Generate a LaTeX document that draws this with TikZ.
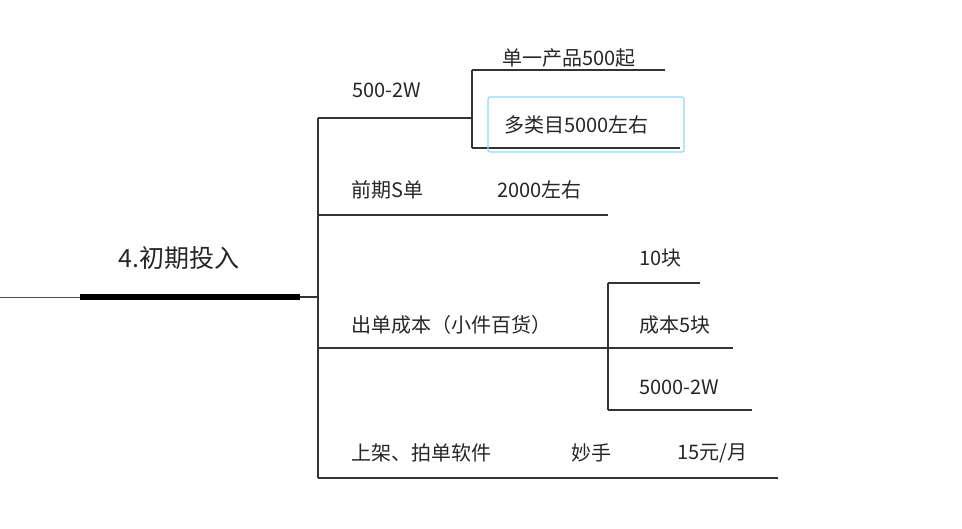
\documentclass[tikz,border=0pt]{standalone}
\usepackage{fontspec}
\setmainfont{Noto Sans CJK SC}
\tikzset{
  lbl/.style={font=\fontsize{20}{23}\selectfont, text=black!85, inner sep=0pt, anchor=west},
  br/.style={draw=black!80, line width=1.2pt},
}
\begin{document}
\begin{tikzpicture}[x=1pt,y=-1pt]
\useasboundingbox (0,0) rectangle (962,528);
% root
\coordinate (l0) at (0,297);
\coordinate (r0) at (80,297);
\coordinate (r1) at (300,297);
\coordinate (t) at (318,297);
\draw[black!70, line width=0.8pt] (l0) -- (r0);
\draw[black, line width=6pt] (r0) -- (r1);
\draw[br] (r1) -- (t);
\node[lbl, font=\fontsize{25}{28}\selectfont] (root) at (118,258) {4.初期投入};
% trunk
\coordinate (ta) at (318,118);
\coordinate (tb) at (318,478);
\draw[br] (ta) -- (tb);
% branch 1
\coordinate (b1) at (472,118);
\draw[br] (ta) -- (b1);
\node[lbl] (n1) at (352,90) {500-2W};
\coordinate (s1a) at (472,70);
\coordinate (s1b) at (472,148);
\draw[br] (s1a) -- (s1b);
\coordinate (e1a) at (665,70);
\coordinate (e1b) at (680,148);
\draw[br] (s1a) -- (e1a);
\draw[br] (s1b) -- (e1b);
\node[lbl] (n11) at (502,58) {单一产品500起};
\draw[cyan!45, line width=1.2pt, rounded corners=2pt] (488,97) rectangle (684,152);
\node[lbl] (n12) at (504,125) {多类目5000左右};
% branch 2
\coordinate (a2) at (318,215);
\coordinate (b2) at (608,215);
\draw[br] (a2) -- (b2);
\node[lbl] (n2) at (351,190) {前期S单};
\node[lbl] (n21) at (497,190) {2000左右};
% branch 3
\coordinate (a3) at (318,348);
\coordinate (b3) at (608,348);
\draw[br] (a3) -- (b3);
\node[lbl] (n3) at (351,325) {出单成本（小件百货）};
\coordinate (s3a) at (608,283);
\coordinate (s3b) at (608,410);
\draw[br] (s3a) -- (s3b);
\coordinate (e3a) at (700,283);
\coordinate (e3b) at (733,348);
\coordinate (e3c) at (752,410);
\draw[br] (s3a) -- (e3a);
\draw[br] (b3) -- (e3b);
\draw[br] (s3b) -- (e3c);
\node[lbl] (n31) at (639,258) {10块};
\node[lbl] (n32) at (639,325) {成本5块};
\node[lbl] (n33) at (639,387) {5000-2W};
% branch 4
\coordinate (b4) at (778,478);
\draw[br] (tb) -- (b4);
\node[lbl] (n4) at (351,453) {上架、拍单软件};
\node[lbl] (n41) at (571,453) {妙手};
\node[lbl] (n42) at (677,453) {15元/月};
\end{tikzpicture}
\end{document}
